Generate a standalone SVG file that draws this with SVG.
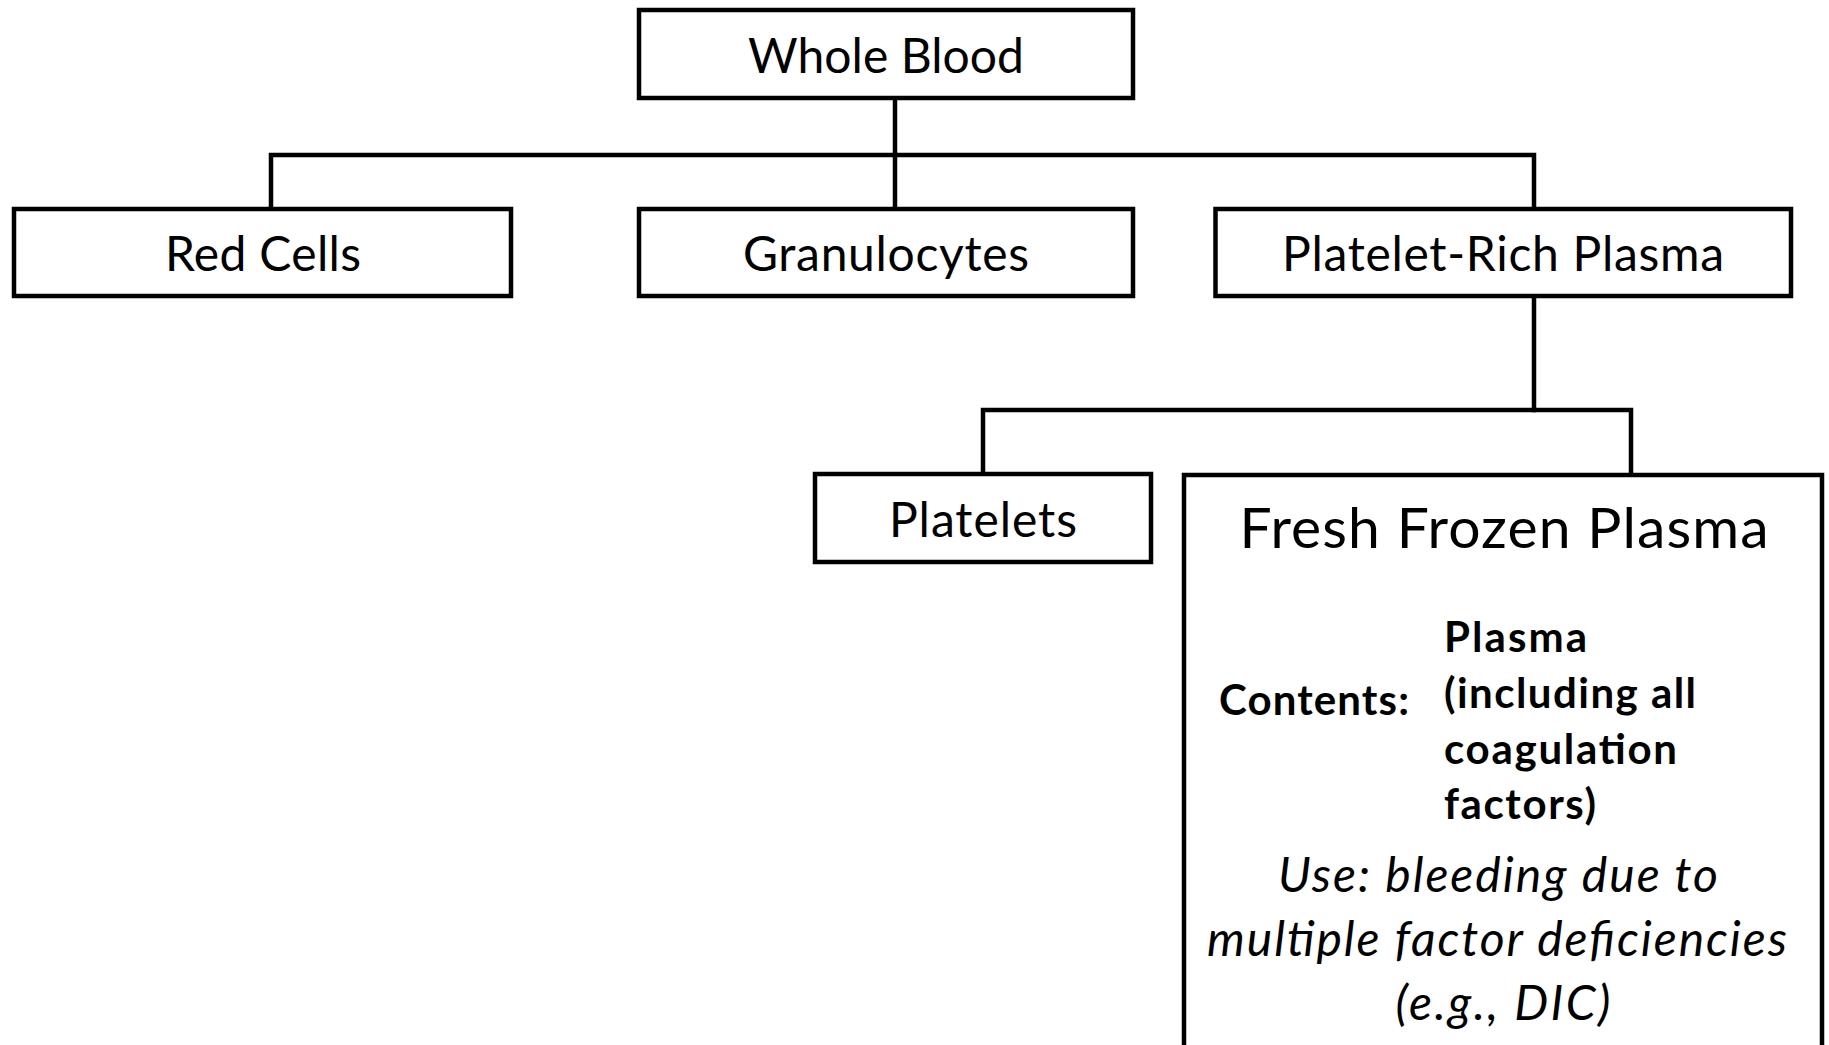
<svg xmlns="http://www.w3.org/2000/svg" width="1829" height="1045" viewBox="0 0 1829 1045">
  <style>
    .box { fill: #ffffff; stroke: #000000; stroke-width: 4.5; }
    .wire { fill: none; stroke: #000000; stroke-width: 4.5; stroke-linecap: square; stroke-linejoin: miter; }
    .lbl { font-family: Lato, "Open Sans", "Liberation Sans", sans-serif; font-size: 48px; fill: #000000; text-anchor: middle; }
    .title { font-family: Lato, "Open Sans", "Liberation Sans", sans-serif; font-size: 57px; fill: #000000; text-anchor: middle; }
    .bold { font-family: Lato, "Open Sans", "Liberation Sans", sans-serif; font-size: 42px; font-weight: bold; fill: #000000; }
    .ital { font-family: Lato, "Open Sans", "Liberation Sans", sans-serif; font-size: 48px; font-style: italic; fill: #000000; text-anchor: middle; }
  </style>
  <rect width="1829" height="1045" fill="#ffffff"/>

  <!-- tree connectors -->
  <g id="connectors">
    <path class="wire" d="M895,98 V155"/>
    <path class="wire" d="M271,209 V155 H1534 V209"/>
    <path class="wire" d="M895,155 V209"/>
    <path class="wire" d="M1534,296 V410"/>
    <path class="wire" d="M983,474 V410 H1631 V475"/>
  </g>

  <g id="whole-blood">
    <rect class="box" x="639" y="10" width="494" height="88"/>
    <text class="lbl" x="886" y="73" textLength="276">Whole Blood</text>
  </g>

  <g id="red-cells">
    <rect class="box" x="14" y="209" width="497" height="87"/>
    <text class="lbl" x="263" y="271" textLength="196">Red Cells</text>
  </g>

  <g id="granulocytes">
    <rect class="box" x="639" y="209" width="494" height="87"/>
    <text class="lbl" x="886" y="271" textLength="286">Granulocytes</text>
  </g>

  <g id="platelet-rich-plasma">
    <rect class="box" x="1215.5" y="209" width="575.5" height="87"/>
    <text class="lbl" x="1503" y="271" textLength="442">Platelet-Rich Plasma</text>
  </g>

  <g id="platelets">
    <rect class="box" x="815" y="474" width="336" height="88"/>
    <text class="lbl" x="983" y="537" textLength="188">Platelets</text>
  </g>

  <g id="fresh-frozen-plasma">
    <rect class="box" x="1184" y="475" width="638" height="600"/>
    <text class="title" x="1504" y="548" textLength="529">Fresh Frozen Plasma</text>
    <text class="bold" x="1409" y="715" text-anchor="end" textLength="190">Contents:</text>
    <text class="bold" x="1444" y="652" textLength="143">Plasma</text>
    <text class="bold" x="1444" y="708" textLength="252">(including all</text>
    <text class="bold" x="1444" y="764" textLength="233">coagulation</text>
    <text class="bold" x="1444" y="819" textLength="152">factors)</text>
    <text class="ital" x="1498" y="892" textLength="440">Use: bleeding due to</text>
    <text class="ital" x="1497" y="956" textLength="580">multiple factor deficiencies</text>
    <text class="ital" x="1503" y="1020" textLength="215">(e.g., DIC)</text>
  </g>
</svg>
